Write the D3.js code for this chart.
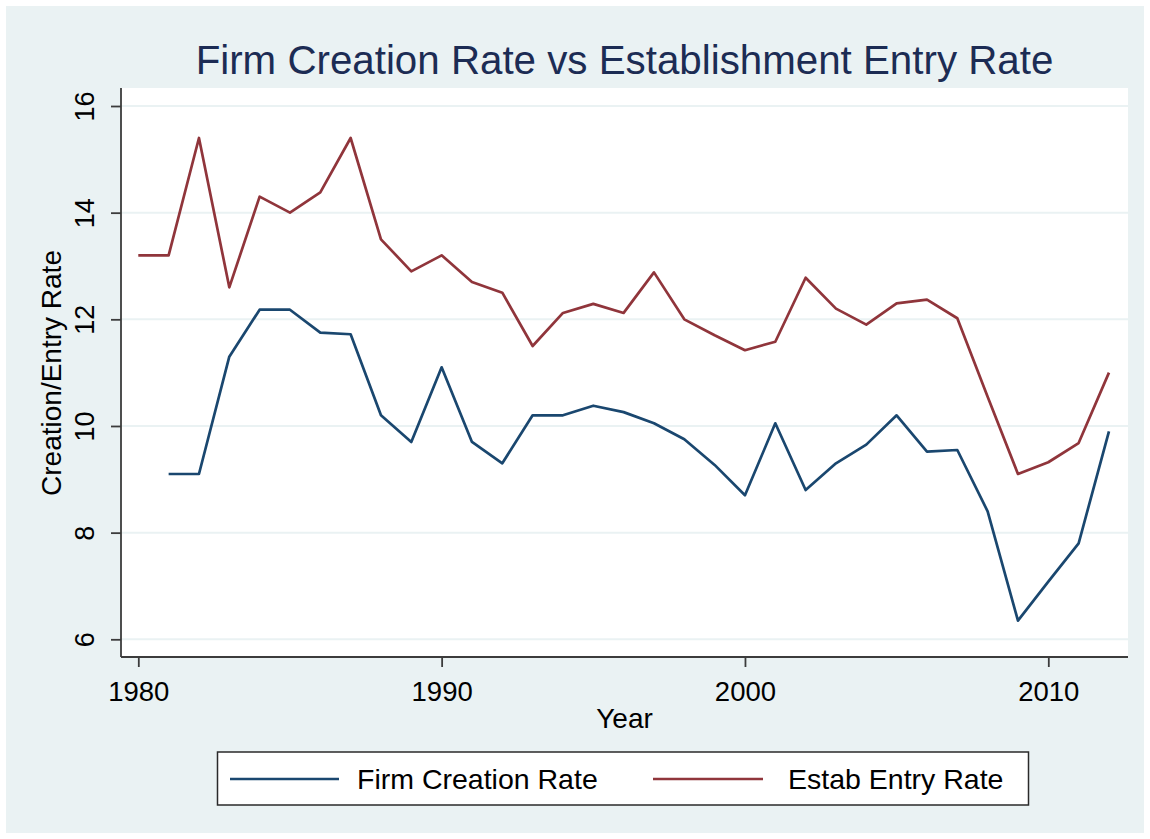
<!DOCTYPE html>
<html>
<head>
<meta charset="utf-8">
<script src="https://cdn.jsdelivr.net/npm/d3@7"></script>
<style>
  html, body { margin: 0; padding: 0; background: #ffffff; }
  svg { display: block; font-family: "Liberation Sans", Arial, sans-serif; }
</style>
</head>
<body>
<svg id="chart" width="1150" height="839"></svg>
<script>
const years = d3.range(1980, 2013);
const firmYears = d3.range(1981, 2013);
const firmCreation = [9.1, 9.1, 11.3, 12.18, 12.18, 11.75, 11.72, 10.2, 9.7, 11.1,
  9.7, 9.3, 10.2, 10.2, 10.38, 10.26, 10.05, 9.75, 9.27, 8.7,
  10.05, 8.8, 9.3, 9.65, 10.2, 9.52, 9.55, 8.4, 6.35, 7.08, 7.8, 9.9];
const estabEntry = [13.2, 13.2, 15.4, 12.6, 14.3, 14.0, 14.38, 15.4, 13.5, 12.9,
  13.2, 12.7, 12.5, 11.5, 12.12, 12.29, 12.12, 12.88, 12.0, 11.7,
  11.42, 11.58, 12.78, 12.2, 11.9, 12.3, 12.37, 12.02, 10.55, 9.1,
  9.32, 9.68, 11.0];
const yTicks = [6, 8, 10, 12, 14, 16];
const xTicks = [1980, 1990, 2000, 2010];
const titleText = "Firm Creation Rate vs Establishment Entry Rate";
const xTitle = "Year";
const yTitle = "Creation/Entry Rate";
const seriesNames = ["Firm Creation Rate", "Estab Entry Rate"];
const seriesColors = ["#1a476f", "#90353b"];

const svg = d3.select("#chart");
const W = 1150, H = 839;
const plot = { left: 121, right: 1128, top: 88, bottom: 657 };

// outer background
svg.append("rect").attr("x", 6).attr("y", 6).attr("width", W - 12).attr("height", H - 12)
  .attr("fill", "#eaf2f3");
// plot region
svg.append("rect").attr("x", plot.left).attr("y", plot.top)
  .attr("width", plot.right - plot.left).attr("height", plot.bottom - plot.top)
  .attr("fill", "#ffffff");

const x = d3.scaleLinear().domain([1980, 2010]).range([138.3, 1048.3]);
const y = d3.scaleLinear().domain([6, 16]).range([639.3, 106]);

// gridlines
svg.append("g").selectAll("line").data(yTicks).join("line")
  .attr("x1", plot.left).attr("x2", plot.right)
  .attr("y1", d => y(d)).attr("y2", d => y(d))
  .attr("stroke", "#eaf2f3").attr("stroke-width", 2);

// lines
const lineGen = d3.line().x(d => x(d[0])).y(d => y(d[1]));
const firmData = firmYears.map((yr, i) => [yr, firmCreation[i]]);
const estabData = years.map((yr, i) => [yr, estabEntry[i]]);
[firmData, estabData].forEach((data, i) => {
  svg.append("path").datum(data).attr("d", lineGen)
    .attr("fill", "none").attr("stroke", seriesColors[i])
    .attr("stroke-width", 2.7).attr("stroke-linejoin", "round");
});

// y axis
const yAxis = svg.append("g").attr("transform", `translate(${plot.left},0)`)
  .call(d3.axisLeft(y).tickValues(yTicks).tickSize(10).tickPadding(0).tickSizeOuter(0));
yAxis.select(".domain").attr("d", `M0,${plot.top}V${plot.bottom}`)
  .attr("stroke", "#3c3c3c").attr("stroke-width", 1.8);
yAxis.selectAll(".tick line").attr("stroke", "#3c3c3c").attr("stroke-width", 1.8);
yAxis.selectAll(".tick text")
  .attr("x", null).attr("dy", null)
  .attr("transform", "translate(-27,0) rotate(-90)")
  .attr("text-anchor", "middle")
  .attr("font-size", 27).attr("fill", "#000");

// x axis
const xAxis = svg.append("g").attr("transform", `translate(0,${plot.bottom})`)
  .call(d3.axisBottom(x).tickValues(xTicks).tickFormat(d3.format("d")).tickSize(10).tickPadding(0).tickSizeOuter(0));
xAxis.select(".domain").attr("d", `M${plot.left},0H${plot.right}`)
  .attr("stroke", "#3c3c3c").attr("stroke-width", 1.8);
xAxis.selectAll(".tick line").attr("stroke", "#3c3c3c").attr("stroke-width", 1.8);
xAxis.selectAll(".tick text").attr("y", 44).attr("dy", null)
  .attr("font-size", 27.5).attr("fill", "#000");

// titles
svg.append("text").attr("x", 624.5).attr("y", 74).attr("text-anchor", "middle")
  .attr("font-size", 40.3).attr("fill", "#1c2c54").text(titleText);
svg.append("text").attr("x", 624.5).attr("y", 728).attr("text-anchor", "middle")
  .attr("font-size", 28).attr("fill", "#000").text(xTitle);
svg.append("text").attr("transform", "translate(61,373) rotate(-90)")
  .attr("text-anchor", "middle").attr("font-size", 28).attr("fill", "#000").text(yTitle);

// legend
const lg = svg.append("g");
lg.append("rect").attr("x", 217.5).attr("y", 752).attr("width", 811).attr("height", 53)
  .attr("fill", "#ffffff").attr("stroke", "#2a2a2a").attr("stroke-width", 1.5);
const legendItems = [
  { x1: 230, x2: 339, tx: 357 },
  { x1: 653, x2: 763, tx: 788 }
];
legendItems.forEach((it, i) => {
  lg.append("line").attr("x1", it.x1).attr("x2", it.x2).attr("y1", 779).attr("y2", 779)
    .attr("stroke", seriesColors[i]).attr("stroke-width", 2.7);
  lg.append("text").attr("x", it.tx).attr("y", 789).attr("font-size", 28.5)
    .attr("fill", "#000").text(seriesNames[i]);
});
</script>
</body>
</html>
